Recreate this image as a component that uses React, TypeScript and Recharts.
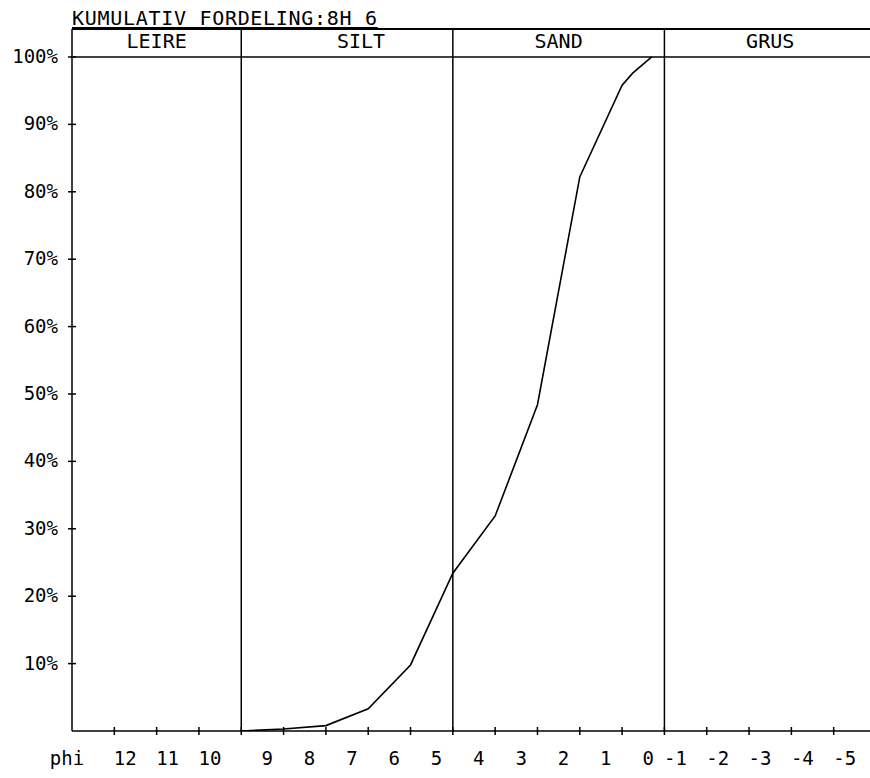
import { LineChart, Line, XAxis, YAxis, ReferenceLine, ReferenceArea } from 'recharts';

// phi values along the x axis (reversed, coarse on the right)
const phiValues = [9, 8, 7, 6, 5, 4, 3, 2, 1, 0, -0.25, -0.7];
const cumulativePct = [0, 0.3, 0.8, 3.3, 9.8, 23.4, 31.9, 48.4, 82.2, 95.8, 97.6, 100];

const xTicks = [13, 12, 11, 10, 9, 8, 7, 6, 5, 4, 3, 2, 1, 0, -1, -2, -3, -4, -5];
const yTicks = [10, 20, 30, 40, 50, 60, 70, 80, 90, 100];

// fraction boundaries (phi) and header labels
const boundaries = [9, 4, -1];
const fractions = [
  { label: 'LEIRE', from: 13, to: 9, dx: 0 },
  { label: 'SILT', from: 9, to: 4, dx: 14 },
  { label: 'SAND', from: 4, to: -1, dx: 0 },
  { label: 'GRUS', from: -1, to: -6, dx: 0 },
];

const title = 'KUMULATIV FORDELING:8H 6';

const data = phiValues.map((phi, i) => ({ phi, pct: cumulativePct[i] }));

const FONT = '"DejaVu Sans Mono", "Liberation Mono", monospace';
const TOP = 104.15;

const XTick = ({ x, y, payload }: any) => {
  const v = payload.value;
  if (v === 13) {
    return (
      <text x={x - 5} y={y + 34} textAnchor="middle" fontFamily={FONT} fontSize={19} fill="#000">
        phi
      </text>
    );
  }
  const label = String(v);
  return (
    <g>
      <line x1={x} x2={x} y1={y - 4} y2={y + 4} stroke="#000" strokeWidth={1.5} />
      <text
        x={x + (label.length === 1 ? 26 : 11)}
        y={y + 34}
        textAnchor="middle"
        fontFamily={FONT}
        fontSize={19}
        fill="#000"
      >
        {label}
      </text>
    </g>
  );
};

const YTick = ({ x, y, payload }: any) => (
  <g>
    <line x1={x - 4} x2={x + 4} y1={y} y2={y} stroke="#000" strokeWidth={1.5} />
    <text x={x - 14} y={y + 6} textAnchor="end" fontFamily={FONT} fontSize={19} fill="#000">
      {payload.value}%
    </text>
  </g>
);

export default function App() {
  return (
    <div
      style={{
        position: 'absolute',
        left: 0,
        top: 0,
        width: 870,
        height: 778,
        overflow: 'hidden',
        background: '#fff',
      }}
    >
      <div
        style={{
          position: 'absolute',
          left: 72,
          top: 8,
          fontFamily: FONT,
          fontSize: 20,
          lineHeight: '20px',
          letterSpacing: '0.7px',
          textDecoration: 'underline',
          textUnderlineOffset: '2px',
          whiteSpace: 'pre',
          color: '#000',
        }}
      >
        {title}
      </div>
      <LineChart
        width={876}
        height={778}
        data={data}
        margin={{ top: 29, right: 0, bottom: 0, left: 0 }}
      >
        <XAxis
          dataKey="phi"
          type="number"
          domain={[-6, 13]}
          reversed
          ticks={xTicks}
          interval={0}
          tick={<XTick />}
          tickLine={false}
          tickSize={0}
          tickMargin={0}
          height={47}
          axisLine={{ stroke: '#000', strokeWidth: 1.5 }}
          allowDataOverflow
        />
        <YAxis
          type="number"
          domain={[0, TOP]}
          ticks={yTicks}
          interval={0}
          tick={<YTick />}
          tickLine={false}
          tickSize={0}
          tickMargin={0}
          width={72}
          axisLine={{ stroke: '#000', strokeWidth: 1.5 }}
          allowDataOverflow
        />
        <ReferenceLine y={TOP} stroke="#000" strokeWidth={2} />
        <ReferenceLine y={100} stroke="#000" strokeWidth={1.5} />
        {boundaries.map((b) => (
          <ReferenceLine key={b} x={b} stroke="#000" strokeWidth={1.5} />
        ))}
        {fractions.map((f) => (
          <ReferenceArea
            key={f.label}
            x1={f.from}
            x2={f.to}
            y1={100}
            y2={TOP}
            fill="none"
            stroke="none"
            ifOverflow="visible"
            label={{
              value: f.label,
              position: 'center',
              dx: f.dx,
              dy: -2,
              fill: '#000',
              fontSize: 20,
              fontFamily: FONT,
            }}
          />
        ))}
        <Line
          type="linear"
          dataKey="pct"
          stroke="#000"
          strokeWidth={1.6}
          dot={false}
          isAnimationActive={false}
        />
      </LineChart>
    </div>
  );
}
